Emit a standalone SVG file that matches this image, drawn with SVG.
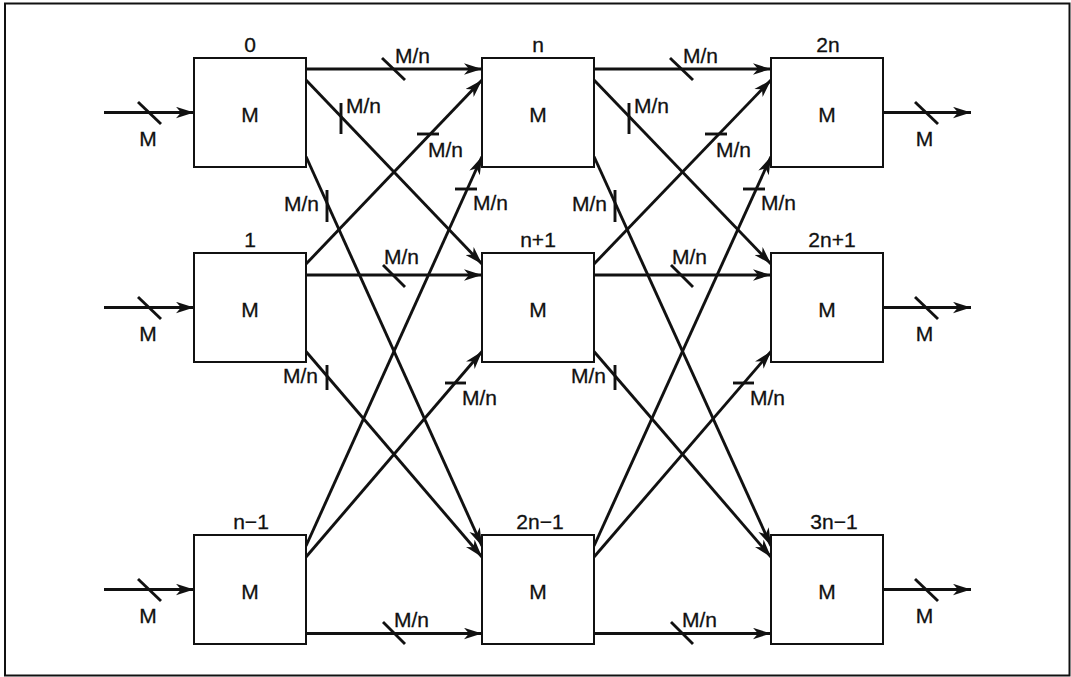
<svg xmlns="http://www.w3.org/2000/svg" width="1071" height="677" viewBox="0 0 1071 677">
<style>
.frame{fill:none;stroke:#111;stroke-width:2}
.box{fill:#fff;stroke:#111;stroke-width:2}
.c{fill:none;stroke:#111;stroke-width:2.9}
.arr{marker-end:url(#ah)}
.t{fill:none;stroke:#111;stroke-width:2.9}
text{font-family:"Liberation Sans",Arial,sans-serif;font-size:21px;fill:#111;stroke:#111;stroke-width:0.3}
.m{text-anchor:middle}
.e{text-anchor:end}
</style>
<defs>
<marker id="ah" viewBox="0 0 18 12" refX="18" refY="6" markerWidth="18" markerHeight="12" markerUnits="userSpaceOnUse" orient="auto">
<path d="M0,0.3 L18,6 L0,11.7 L5,6 Z" fill="#111"/>
</marker>
</defs>
<rect class="frame" x="5" y="3.5" width="1064.5" height="672"/>

<g id="connectors">
<!-- inputs -->
<line class="c arr" x1="104" y1="112.5" x2="194" y2="112.5"/>
<line class="c arr" x1="104" y1="307.5" x2="194" y2="307.5"/>
<line class="c arr" x1="104" y1="589.5" x2="194" y2="589.5"/>
<line class="t" x1="138" y1="102" x2="161" y2="124"/>
<line class="t" x1="138" y1="297" x2="161" y2="319"/>
<line class="t" x1="138" y1="579" x2="161" y2="601"/>
<text class="m" x="148" y="146">M</text>
<text class="m" x="148" y="341">M</text>
<text class="m" x="148" y="623">M</text>
<!-- outputs -->
<line class="c arr" x1="883" y1="112.5" x2="971" y2="112.5"/>
<line class="c arr" x1="883" y1="307.5" x2="971" y2="307.5"/>
<line class="c arr" x1="883" y1="589.5" x2="971" y2="589.5"/>
<line class="t" x1="915" y1="102" x2="938" y2="124"/>
<line class="t" x1="915" y1="297" x2="938" y2="319"/>
<line class="t" x1="915" y1="579" x2="938" y2="601"/>
<text class="m" x="924.5" y="146">M</text>
<text class="m" x="924.5" y="341">M</text>
<text class="m" x="924.5" y="623">M</text>

<!-- stage 1: column 1 to column 2 -->
<line class="c arr" x1="306" y1="69" x2="482" y2="69"/>
<line class="c arr" x1="306" y1="80" x2="482" y2="264"/>
<line class="c arr" x1="306" y1="156.5" x2="482" y2="546"/>
<line class="c arr" x1="306" y1="264" x2="482" y2="80"/>
<line class="c arr" x1="306" y1="275" x2="482" y2="275"/>
<line class="c arr" x1="306" y1="351.5" x2="482" y2="557"/>
<line class="c arr" x1="306" y1="546" x2="482" y2="156.5"/>
<line class="c arr" x1="306" y1="557" x2="482" y2="351.5"/>
<line class="c arr" x1="306" y1="633.5" x2="482" y2="633.5"/>
<line class="t" x1="382" y1="58" x2="405" y2="80"/>
<text x="395" y="63">M/n</text>
<line class="t" x1="383" y1="265" x2="405" y2="287"/>
<text x="384" y="264">M/n</text>
<line class="t" x1="383" y1="622" x2="405" y2="644"/>
<text x="394" y="627">M/n</text>
<line class="t" x1="341" y1="103" x2="341" y2="134"/>
<text x="346" y="113">M/n</text>
<line class="t" x1="327" y1="190" x2="327" y2="222"/>
<text class="e" x="319" y="211">M/n</text>
<line class="t" x1="327" y1="365" x2="327" y2="390"/>
<text class="e" x="318" y="383">M/n</text>
<line class="t" x1="417" y1="134" x2="439" y2="134"/>
<text x="428" y="157">M/n</text>
<line class="t" x1="455" y1="189" x2="477" y2="189"/>
<text x="473" y="210">M/n</text>
<line class="t" x1="445" y1="383" x2="466" y2="383"/>
<text x="462" y="405">M/n</text>

<!-- stage 2: column 2 to column 3 -->
<line class="c arr" x1="594" y1="69" x2="771" y2="69"/>
<line class="c arr" x1="594" y1="80" x2="771" y2="264"/>
<line class="c arr" x1="594" y1="156.5" x2="771" y2="546"/>
<line class="c arr" x1="594" y1="264" x2="771" y2="80"/>
<line class="c arr" x1="594" y1="275" x2="771" y2="275"/>
<line class="c arr" x1="594" y1="351.5" x2="771" y2="557"/>
<line class="c arr" x1="594" y1="546" x2="771" y2="156.5"/>
<line class="c arr" x1="594" y1="557" x2="771" y2="351.5"/>
<line class="c arr" x1="594" y1="633.5" x2="771" y2="633.5"/>
<line class="t" x1="670" y1="58" x2="693" y2="80"/>
<text x="683" y="63">M/n</text>
<line class="t" x1="671" y1="265" x2="693" y2="287"/>
<text x="672" y="264">M/n</text>
<line class="t" x1="671" y1="622" x2="693" y2="644"/>
<text x="682" y="627">M/n</text>
<line class="t" x1="629" y1="103" x2="629" y2="134"/>
<text x="634" y="113">M/n</text>
<line class="t" x1="615" y1="190" x2="615" y2="222"/>
<text class="e" x="607" y="211">M/n</text>
<line class="t" x1="615" y1="365" x2="615" y2="390"/>
<text class="e" x="606" y="383">M/n</text>
<line class="t" x1="705" y1="134" x2="727" y2="134"/>
<text x="716" y="157">M/n</text>
<line class="t" x1="743" y1="189" x2="765" y2="189"/>
<text x="761" y="210">M/n</text>
<line class="t" x1="733" y1="383" x2="754" y2="383"/>
<text x="750" y="405">M/n</text>
</g>

<g id="node-0"><rect class="box" x="194" y="58" width="112" height="109"/><text class="m" x="250" y="52">0</text><text class="m" x="250" y="122">M</text></g>
<g id="node-1"><rect class="box" x="194" y="253" width="112" height="109"/><text class="m" x="250" y="247">1</text><text class="m" x="250" y="317">M</text></g>
<g id="node-n-1"><rect class="box" x="194" y="535" width="112" height="109"/><text class="m" x="251" y="529">n−1</text><text class="m" x="250" y="599">M</text></g>
<g id="node-n"><rect class="box" x="482" y="58" width="112" height="109"/><text class="m" x="538" y="52">n</text><text class="m" x="538" y="122">M</text></g>
<g id="node-n+1"><rect class="box" x="482" y="253" width="112" height="109"/><text class="m" x="538" y="247">n+1</text><text class="m" x="538" y="317">M</text></g>
<g id="node-2n-1"><rect class="box" x="482" y="535" width="112" height="109"/><text class="m" x="540" y="529">2n−1</text><text class="m" x="538" y="599">M</text></g>
<g id="node-2n"><rect class="box" x="771" y="58" width="112" height="109"/><text class="m" x="828" y="52">2n</text><text class="m" x="827" y="122">M</text></g>
<g id="node-2n+1"><rect class="box" x="771" y="253" width="112" height="109"/><text class="m" x="832" y="247">2n+1</text><text class="m" x="827" y="317">M</text></g>
<g id="node-3n-1"><rect class="box" x="771" y="535" width="112" height="109"/><text class="m" x="834" y="529">3n−1</text><text class="m" x="827" y="599">M</text></g>
</svg>
